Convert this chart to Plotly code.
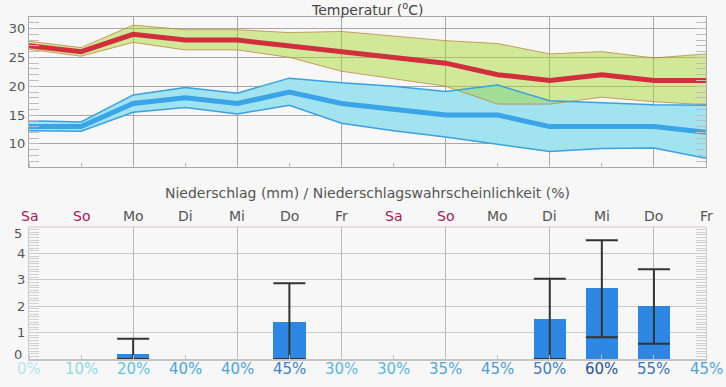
import plotly.graph_objects as go

# ---------------- data ----------------
days = ["Sa", "So", "Mo", "Di", "Mi", "Do", "Fr", "Sa", "So", "Mo", "Di", "Mi", "Do", "Fr"]
tmax = [27, 26, 29, 28, 28, 27, 26, 25, 24, 22, 21, 22, 21, 21]
tmax_hi = [27.8, 26.7, 30.6, 29.8, 29.8, 29.3, 29.5, 28.7, 27.9, 27.4, 25.6, 26.0, 24.9, 25.6]
tmax_lo = [26.4, 25.2, 27.6, 26.3, 26.3, 25.0, 22.6, 21.3, 20.0, 16.9, 16.9, 18.1, 17.3, 16.8]
tmin = [13, 13, 17, 18, 17, 19, 17, 16, 15, 15, 13, 13, 13, 12]
tmin_hi = [14.0, 13.8, 18.5, 19.8, 18.8, 21.4, 20.6, 20.0, 19.1, 20.2, 17.5, 17.1, 16.8, 16.7]
tmin_lo = [12.3, 12.2, 15.5, 16.3, 15.2, 16.7, 13.6, 12.3, 11.2, 10.0, 8.7, 9.2, 9.3, 7.5]
rain = [0, 0, 0.2, 0, 0, 1.4, 0, 0, 0, 0, 1.5, 2.7, 2.0, 0]
rain_hi = [None, None, 0.77, None, None, 2.87, None, None, None, None, 3.04, 4.5, 3.4, None]
rain_lo = [None, None, 0.0, None, None, 0.0, None, None, None, None, 0.0, 0.82, 0.58, None]
prob = [0, 10, 20, 40, 40, 45, 30, 30, 35, 45, 50, 60, 55, 45]
weekend = ["Sa", "So"]
rain_ticks = [0, 1, 2, 3, 4, 5]

# ---------------- styles ----------------
prob_colors = ["#b6e5ee", "#91d7e8", "#60c2e2", "#4aa5dc", "#4aa5dc", "#3f82ca", "#5ab6e2",
               "#5ab6e2", "#50a9dc", "#4a9fda", "#3f7ec6", "#2a539e", "#3872bf", "#4aa5dd"]
FONT = "DejaVu Sans"
BG = "#f7f7f7"

x = list(range(len(days)))
xr = x[::-1]

fig = go.Figure()

# blue band fill (min temperature range)
fig.add_trace(go.Scatter(x=x + xr, y=tmin_hi + tmin_lo[::-1], fill="toself",
                         fillcolor="#a2e3f0", line=dict(width=0), mode="lines",
                         hoverinfo="skip", xaxis="x", yaxis="y"))
# green band fill (max temperature range)
fig.add_trace(go.Scatter(x=x + xr, y=tmax_hi + tmax_lo[::-1], fill="toself",
                         fillcolor="rgba(160,214,30,0.44)", line=dict(width=0), mode="lines",
                         hoverinfo="skip", xaxis="x", yaxis="y"))
# green band edges
for arr in (tmax_hi, tmax_lo):
    fig.add_trace(go.Scatter(x=x, y=arr, mode="lines",
                             line=dict(color="rgba(190,130,60,0.75)", width=1),
                             xaxis="x", yaxis="y"))
# blue band edges
for arr in (tmin_hi, tmin_lo):
    fig.add_trace(go.Scatter(x=x, y=arr, mode="lines",
                             line=dict(color="#3aa0e2", width=1.5),
                             xaxis="x", yaxis="y"))
# mean lines
fig.add_trace(go.Scatter(x=x, y=tmin, mode="lines", line=dict(color="#3ba3e8", width=5),
                         xaxis="x", yaxis="y"))
fig.add_trace(go.Scatter(x=x, y=tmax, mode="lines", line=dict(color="#d22f3e", width=5),
                         xaxis="x", yaxis="y"))

# precipitation bars
fig.add_trace(go.Bar(x=x, y=rain, width=0.62, marker=dict(color="#2e87e2", line=dict(width=0)),
                     xaxis="x2", yaxis="y2"))
# error bars (range of precipitation)
ex, ey, eplus, eminus = [], [], [], []
for i, r in enumerate(rain):
    if rain_hi[i] is not None:
        ex.append(i)
        ey.append(r)
        eplus.append(rain_hi[i] - r)
        eminus.append(r - rain_lo[i])
fig.add_trace(go.Scatter(x=ex, y=ey, mode="markers", marker=dict(size=1, opacity=0),
                         error_y=dict(type="data", array=eplus, arrayminus=eminus,
                                      color="#333333", thickness=2, width=16),
                         xaxis="x2", yaxis="y2", hoverinfo="skip"))

top_dom = [0.5614, 1.0]
bot_dom = [0.0, 0.386]

fig.update_layout(
    width=726, height=387,
    margin=dict(l=29, r=20, t=17, b=28, autoexpand=False),
    paper_bgcolor=BG, plot_bgcolor=BG,
    showlegend=False,
    font=dict(family=FONT, size=13, color="#555555"),
    xaxis=dict(domain=[0, 1], anchor="y", range=[0, 13], tickvals=x[::2],
               showticklabels=False, ticks="", showgrid=True, gridcolor="#a8a8a8",
               gridwidth=1, zeroline=False, showline=True, linecolor="#a8a8a8",
               linewidth=1, mirror=True,
               minor=dict(dtick=1, tick0=0, ticks="inside", ticklen=4,
                          tickcolor="#b5b5b5", showgrid=False)),
    yaxis=dict(domain=top_dom, anchor="x", range=[6, 32], dtick=5, tick0=0,
               showgrid=True, gridcolor="#a8a8a8", zeroline=False, showline=True,
               linecolor="#a8a8a8", mirror="allticks", ticks="inside", ticklen=10,
               tickcolor="#bdbdbd", automargin=False,
               tickfont=dict(size=13, color="#555555"),
               minor=dict(dtick=1, ticks="inside", ticklen=10, tickcolor="#bdbdbd",
                          showgrid=False)),
    xaxis2=dict(domain=[0, 1], anchor="y2", range=[0, 13], tickvals=x[::2],
                showticklabels=False, ticks="", showgrid=True, gridcolor="#b8b8b8",
                gridwidth=1, zeroline=False, showline=True, linecolor="#c4c4c4",
                linewidth=2, mirror=False,
                minor=dict(dtick=1, tick0=0, ticks="inside", ticklen=4,
                           tickcolor="#c0c0c0", showgrid=False)),
    yaxis2=dict(domain=bot_dom, anchor="x2", range=[0, 5], tickvals=rain_ticks[1:-1],
                showticklabels=True, automargin=False,
                showgrid=True, gridcolor="#c8c8c8", zeroline=False, showline=True,
                linecolor="#cccccc", mirror="allticks", ticks="inside", ticklen=10,
                tickcolor="#cccccc",
                tickfont=dict(size=13, color="#555555"),
                minor=dict(dtick=0.1, ticks="inside", ticklen=10, tickcolor="#cfcfcf",
                           showgrid=False)),
    bargap=0,
)

# pink top border of the precipitation chart
fig.add_shape(type="line", xref="x2 domain", yref="y2 domain", x0=0, x1=1, y0=1, y1=1,
              line=dict(color="#e6bfcb", width=1), layer="above")

ann = []
ann.append(dict(text="Temperatur (<sup>o</sup>C)", xref="paper", yref="paper", x=0.5,
                y=1.022, showarrow=False, yanchor="middle",
                font=dict(family=FONT, size=14, color="#444444")))
ann.append(dict(text="Niederschlag (mm) / Niederschlagswahrscheinlichkeit (%)",
                xref="paper", yref="paper", x=0.5, y=0.4854, showarrow=False,
                yanchor="middle", font=dict(family=FONT, size=14, color="#555555")))
# edge labels of the precipitation axis, nudged inside like the original
ann.append(dict(text=str(rain_ticks[0]), xref="paper", yref="paper", x=-0.0074, y=0.0117,
                xanchor="right", yanchor="middle", showarrow=False,
                font=dict(family=FONT, size=13, color="#555555")))
ann.append(dict(text=str(rain_ticks[-1]), xref="paper", yref="paper", x=-0.0074, y=0.368,
                xanchor="right", yanchor="middle", showarrow=False,
                font=dict(family=FONT, size=13, color="#555555")))
for i, d in enumerate(days):
    ann.append(dict(text=d, xref="x2", yref="paper", x=i, y=0.419, showarrow=False,
                    yanchor="middle",
                    font=dict(family=FONT, size=14,
                              color="#a3175a" if d in weekend else "#555555")))
    ann.append(dict(text=f"{prob[i]}%", xref="x2", yref="paper", x=i, y=-0.0307,
                    showarrow=False, yanchor="middle",
                    font=dict(family=FONT, size=15, color=prob_colors[i])))
fig.update_layout(annotations=ann)

fig.write_html("out.html", config={"displayModeBar": False},
               post_script="document.body.style.margin='0px';")
